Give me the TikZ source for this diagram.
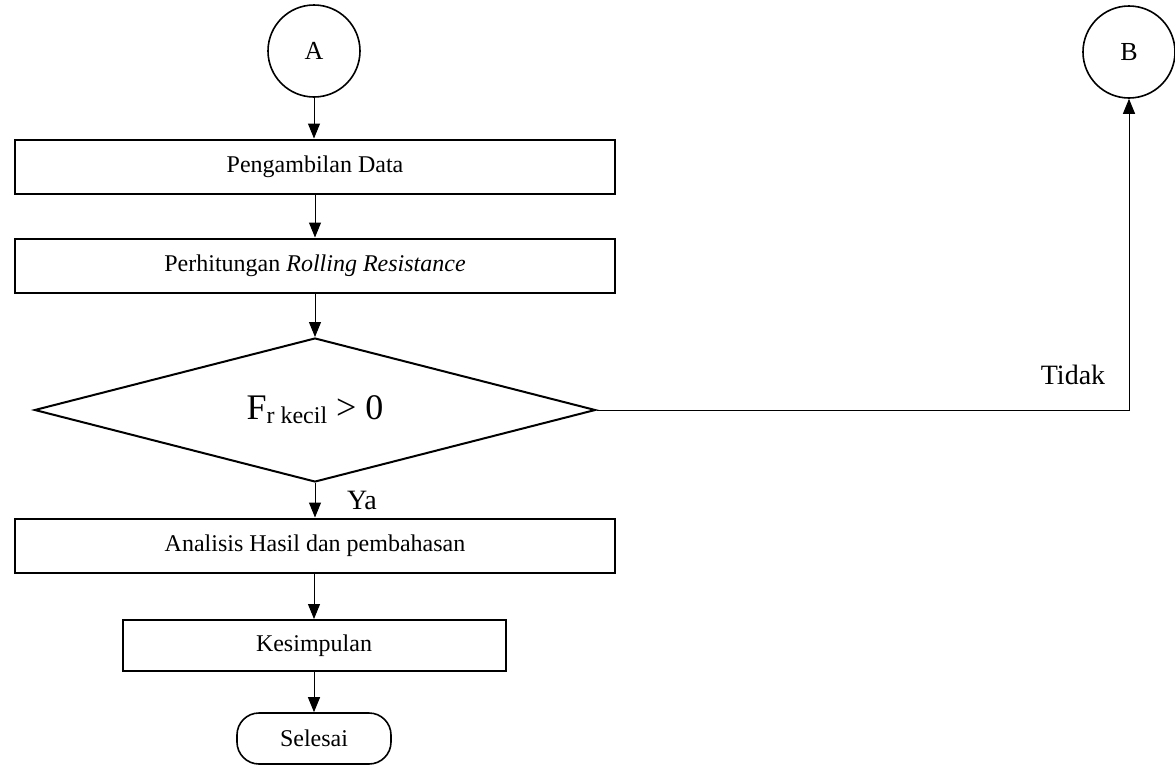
\documentclass[tikz,border=0pt]{standalone}
\usepackage{fontspec}
\setmainfont{Liberation Serif}
\usetikzlibrary{positioning,shapes.geometric,arrows.meta}
\tikzset{
  proses/.style={draw,line width=1pt,minimum width=300pt,minimum height=27pt,inner sep=0pt,font=\fontsize{12}{14}\selectfont},
  konektor/.style={draw,circle,line width=0.8pt,minimum size=46pt,inner sep=0pt,font=\fontsize{13}{15}\selectfont},
  keputusan/.style={draw,diamond,aspect=3.9,line width=1pt,minimum width=280.5pt,minimum height=72pt,inner sep=0pt,font=\fontsize{18}{20}\selectfont},
  terminal/.style={draw,rounded corners=11pt,line width=0.8pt,minimum width=77pt,minimum height=25.5pt,inner sep=0pt,font=\fontsize{12}{14}\selectfont},
  ketcabang/.style={inner sep=0pt,font=\fontsize{14}{16}\selectfont}
}

\begin{document}
\begin{tikzpicture}[x=0.5pt,y=-0.5pt,>={Triangle[length=7.5pt,width=6pt]},line width=0.5pt]
\useasboundingbox (0,0) rectangle (1175,766);
\node[konektor](ka) at (314,51){A};
\node[konektor](kb) at (1129,52){B};
\node[proses](ambil) at (315,166.5){Pengambilan Data};
\node[proses](hitung) at (315,265.5){Perhitungan \textit{Rolling Resistance}};
\node[keputusan](cek) at (315,410){F\raisebox{-2pt}{\fontsize{12}{14}\selectfont r kecil} > 0};
\node[proses](analisis) at (315,545.5){Analisis Hasil dan pembahasan};
\node[proses,minimum width=191.5pt,minimum height=25.5pt](simpul) at (314,645.5){Kesimpulan};
\node[terminal](selesai) at (314,738.5){Selesai};
\node[ketcabang](ya) at (362,500){Ya};
\node[ketcabang](tidak) at (1073,375){Tidak};
\path[->,draw](ka.south)--(ka.south|-ambil.north);
\path[->,draw](ambil)--(hitung);
\path[->,draw](hitung)--(cek);
\path[->,draw](cek)--(analisis);
\path[->,draw](simpul.north|-analisis.south)--(simpul);
\path[->,draw](simpul)--(selesai);
\path[->,draw](cek.east)-|(kb.south);
\end{tikzpicture}
\end{document}
